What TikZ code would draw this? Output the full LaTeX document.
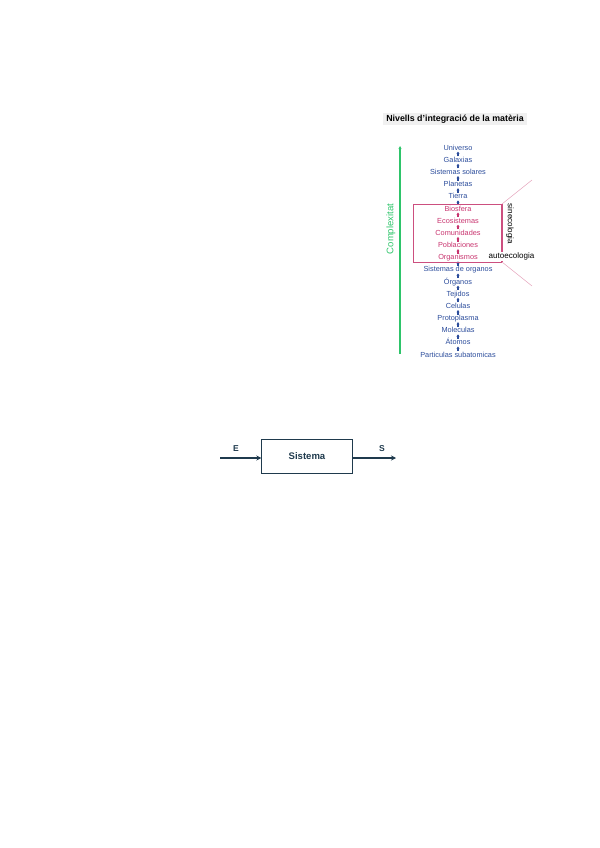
\documentclass[tikz,border=0pt]{standalone}
\usepackage{fontspec}
\setmainfont{Liberation Sans}
\usetikzlibrary{arrows.meta, positioning}
\definecolor{levelblue}{HTML}{2B4C9B}
\definecolor{levelpink}{HTML}{C8336E}
\definecolor{boxpink}{HTML}{CC4F7F}
\definecolor{axisgreen}{HTML}{2EC46A}
\definecolor{sysnavy}{HTML}{1F3A4D}

\begin{document}
\begin{tikzpicture}[x=0.035cm, y=-0.035cm,
  level/.style={font=\fontsize{7.3}{8}\selectfont, inner sep=0pt,
    text height=5pt, text depth=0.8pt},
  uparrow/.style={-{Stealth[length=2.2pt,width=3pt]}, line width=1.1pt,
    shorten <=0.8pt, shorten >=0.6pt},
  eco/.style={font=\fontsize{8}{9}\selectfont, inner sep=0.5pt},
  flow/.style={-{Stealth[length=5pt,width=5pt]}, line width=1.1pt, sysnavy}]
  \useasboundingbox (0,0) rectangle (600,848);

  % title of the levels chart
  \node[fill=gray!12, font=\bfseries\fontsize{8.8}{10}\selectfont, inner xsep=3pt,
    inner ysep=2pt] (title) at (455,119) {Nivells d’integració de la matèria};

  % levels, from top to bottom
  \foreach \name/\col [count=\i] in {Universo/levelblue, Galaxias/levelblue,
      Sistemas solares/levelblue, Planetas/levelblue, Tierra/levelblue,
      Biosfera/levelpink, Ecosistemas/levelpink, Comunidades/levelpink,
      Poblaciones/levelpink, Organismos/levelpink,
      Sistemas de organos/levelblue, Órganos/levelblue, Tejidos/levelblue,
      Celulas/levelblue, Protoplasma/levelblue, Moleculas/levelblue,
      Átomos/levelblue, Particulas subatomicas/levelblue}
    \node[level, text=\col] (n\i) at (458, 148+12.18*\i-12.18) {\name};

  % small arrows between levels
  \foreach \i/\j/\col in {1/2/levelblue, 2/3/levelblue, 3/4/levelblue,
      4/5/levelblue, 5/6/levelblue, 6/7/levelpink, 7/8/levelpink,
      8/9/levelpink, 9/10/levelpink, 10/11/levelblue, 11/12/levelblue,
      12/13/levelblue, 13/14/levelblue, 14/15/levelblue, 15/16/levelblue,
      16/17/levelblue, 17/18/levelblue}
    \draw[uparrow, \col] (n\j.north) -- (n\i.south);

  % ecology box
  \coordinate (boxtl) at (413,204);
  \coordinate (boxtr) at (502,204);
  \coordinate (boxbr) at (502,262);
  \coordinate (boxbl) at (413,262);
  \draw[boxpink, line width=0.7pt] (boxtr) -- (boxtl) -- (boxbl) -- (boxbr);
  \draw[boxpink, line width=1.3pt] (boxtr) -- (boxbr);
  \coordinate (fanup) at (532,180);
  \coordinate (fandown) at (532,286);
  \draw[boxpink!45, line width=0.6pt] (boxtr) -- (fanup);
  \draw[boxpink!45, line width=0.6pt] (boxbr) -- (fandown);
  \node[eco, rotate=-90] (sine) at (510,224) {sinecologia};
  \node[eco, fill=white, inner ysep=1.2pt] (auto) at (511.5,256.5) {autoecologia};

  % complexity axis
  \coordinate (axbot) at (400,354);
  \coordinate (axtop) at (400,146);
  \draw[-{Stealth[length=3pt,width=3pt]}, axisgreen, line width=1.3pt] (axbot) -- (axtop);
  \node[rotate=90, text=axisgreen, font=\fontsize{9.5}{11}\selectfont]
    (cplx) at (391,229) {Complexitat};

  % system with input and output
  \node[draw=sysnavy, line width=1pt, minimum width=90, minimum height=33,
    text=sysnavy, font=\bfseries\fontsize{9.5}{11}\selectfont] (sys) at (307,456.5) {Sistema};
  \coordinate (ein) at (220,458);
  \coordinate (sout) at (396,458);
  \draw[flow] (ein) -- (ein -| sys.west);
  \draw[flow] (sout -| sys.east) -- (sout);
  \node[text=sysnavy, font=\bfseries\fontsize{8.5}{10}\selectfont] (elab) at (236,449) {E};
  \node[text=sysnavy, font=\bfseries\fontsize{8.5}{10}\selectfont] (slab) at (382,449) {S};
\end{tikzpicture}
\end{document}
